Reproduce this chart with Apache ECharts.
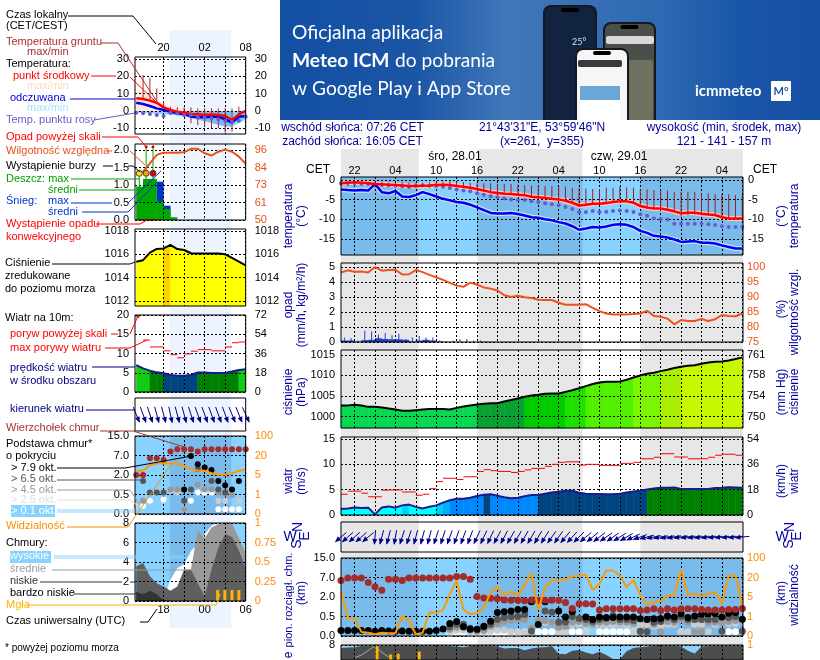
<!DOCTYPE html>
<html>
<head>
<meta charset="utf-8">
<title>meteogram</title>
<script src="https://cdn.jsdelivr.net/npm/echarts@6/dist/echarts.min.js"></script>
<style>
  html, body { margin: 0; padding: 0; background: #fff; overflow: hidden; }
  #chart { width: 820px; height: 660px; }
</style>
</head>
<body>
<div id="chart"></div>
<script>
// time labels
var localTickHours = [20, 23, 26, 29, 32];
var localLabelHours = [20, 26, 32];
var localLabels = ['20', '02', '08'];
var utcLabels = ['18', '00', '06'];
var mainTickHours = [-2, 1, 4, 7, 10, 13, 16, 19, 22, 25, 28, 31, 34, 37, 40, 43, 46, 49, 52, 55];
var mainLabelHours = [-2, 4, 10, 16, 22, 28, 34, 40, 46, 52];
var mainLabels = ['22', '04', '10', '16', '22', '04', '10', '16', '22', '04'];

// night bands, hours
var leftBand = [[20.9, 29.9]];
var mainNights = [[-4, 7.43], [16.08, 31.5], [40, 55.1]];

// left column, hourly from 16:00 CET
var sTemp = [7.3, 6.9, 6, 4.8, 2.1, 0.6, -0.4, -1, -1.7, -1.9, -2.3, -2.1, -2.3, -2.9, -5.2, -2, 0];
var sFeels = [4.8, 4, 2.9, 1.5, 0.6, -0.4, -1.3, -1.7, -3.3, -3.6, -3.6, -3.3, -3.3, -4.8, -6.7, -3.3, -2.9];
var sDew = [-1, -1.3, -1.7, -2.3, -2.9, -1, -1.3, -2.3, -2.3, -3.8, -3.7, -4.2, -4.8, -5.6, -6.2, -5.6, -3.3];
var sTempMax = [13, 10.5, 8, 6.5, 4, 2.5, 1.8, 1.5, 0.8, 0.6, 0.5, 0.3, 0, -1, -3, -1, 1];
var sSkyTop = [-1, -1, -1.3, -1.5, -2, -2, -2.5, -3, -3.5, -5, -6, -7, -8, -9, -9, -7, -5];
var sGroundTop = [null, 20.8, 19.2, 13, 5.4, 2.5, 2.1, 2.1, 2.1, 1.5, 1.5, 1.5, 1.5, 1.5, 1.5, 2.5, null];
var sGroundLow = [null, 7.3, 6.4, 5.4, 1.5, -2.3, -2.3, -3.3, -7.1, -8.1, -9, -10, -10, -12.5, -11.9, -2.3, null];
var sHumidity = [79.7, 81.9, 87.4, 92.9, 94.4, 94.4, 94.4, 94.7, 96.9, 96.9, 94, 92.5, 95, 96.4, 95, 91.8, 87];
var sRainMean = [0.96, 1.18, 1.18, 0.53, 0.31, 0.08];
var sSnowMean = [0, 0, 0, 1.1, 0.41, 0];
var sRainMax = [1.4, 2.1, 2.1];
var sOverScale = [17.5, 18.5];
var sStormHours = [16.45, 17.45, 18.45];
var sConvective = [16.5, 17, 17.5, 18, 18.5, 19, 19.5];
var sPressure = [1015.37, 1015.5, 1016.14, 1016.46, 1016.5, 1016.8, 1016.45, 1016.37, 1016.09, 1016.06, 1016.06, 1016.06, 1016.06, 1016, 1015.7, 1015.37, 1015.06];
var sWind = [7, 6.15, 5.54, 5.1, 4.85, 4.4, 4.25, 4.25, 4.4, 5.06, 5.06, 4.95, 4.95, 4.95, 5.3, 5.7, 5.9];
var sGust = [null, 13.5, 11.7, 11.7, 10.7, 9.7, 8.9, 9.9, 10.6, 11, 11, 10.7, 10.7, 11.7, 12.8, 13];
var sDir = [338, 340, 342, 345, 345, 348, 345, 345, 342, 340, 340, 340, 340, 340, 338, 338, 335];
var sCloudTop = [2.0, 2.0, 2.86, 2.86, 2.77, 3.2, 3.32, 3.32, 3.32, 3.2, 3.32, 3.32, 3.32, 3.32, 3.32, 3.32, 3.32];
var sCloud79 = [null, null, null, null, null, null, null, 1.26, 2.98, 2.55, 2.38, 2.26, 1.69, 1.48, 1.26, 1.69, null];
var sCloud65 = [null, 1.69, 1.1, 1.1, 1.1, null, null, 0.68, 1.26, 2.3, null, 1.69, 1.26, 1.1, null, null, null];
var sCloud45 = [null, 0.68, null, null, null, 1.26, 1.26, 0.25, null, 1.5, 1.26, 1.26, 1.1, 1.05, 0.98, null, null];
var sCloud25 = [0.41, null, null, null, null, 1.2, 1.1, null, null, null, null, null, 0.68, 0.68, null, 0.68, null];
var sCloud01 = [null, 0.41, 0.68, null, 0.75, null, null, 0.25, 0.68, 1.1, 1.1, 1.1, 0.25, 0.25, 0.25, 0.25, null];
var sVisibility = [2.22, 2.22, 2.51, 2.59, 2.59, 2.59, 2.59, 2.46, 2.3, 2.22, 2.22, 2.09, 2.03, 2.03, 2.09, 2.22, 2.26];
var sCloudVeryLow = [0.97, 0.62, 1.04, 0.69, 0.1, 0, 0, 0, 0, 0, 0, 0, 0, 0, 0, 0, 0];
var sCloudLow = [3.56, 3.91, 2.53, 1.83, 1.49, 1.04, 1.49, 3.22, 3.22, 1.83, 0.45, 3.22, 5.47, 6.85, 6.57, 5.19, 3.39];
var sCloudMid = [0, 0, 0, 0, 0, 0, 0, 0, 3.22, 7.27, 6.44, 7.54, 7.89, 7.96, 8, 6.5, 4.95];
var sCloudHigh = [0, 0, 0, 0, 0, 2.18, 3.39, 3.74, 5.12, 5.81, 6.85, 7.72, 8, 8, 8, 6.44, 4.95];
var sFogHours = [27.9, 28.95, 30, 31];
var sFog = [0.14, 0.14, 0.14, 0.14];

// main column, hourly from 20:00 CET on 27.01
var temp = [-0.8, -0.7, -0.6, -0.7, -0.85, -1, -1.1, -1.2, -1.3, -1.4, -1.5, -1.5, -1.45, -1.4, -1.3, -1.2, -1.3, -1.5, -1.7, -2, -2.3, -2.7, -3.1, -3.3, -3.5, -3.6, -3.75, -3.9, -4.25, -4.4, -4.6, -4.8, -4.95, -5.3, -5.8, -6.5, -6.3, -6.05, -6.05, -5.9, -5.6, -5.45, -5.45, -5.8, -6.65, -7, -7.25, -7.3, -7.6, -8, -8.5, -8.35, -8.35, -8.6, -8.8, -8.95, -9.5, -9.8, -9.85, -9.8];
var feels = [-2.4, -2.55, -2.65, -2.55, -2.7, -1, -3.1, -3.4, -2.8, -4.2, -4.35, -3.85, -3.1, -3.6, -4.2, -4.8, -5.2, -5.6, -5.8, -6.3, -7, -7.7, -8.4, -8.55, -8.55, -8.45, -8.7, -9.05, -9.5, -9.65, -10, -10.3, -10.75, -11.1, -11.8, -12.7, -12.4, -12, -12.1, -11.85, -11.45, -11.3, -11.45, -12, -13, -13.5, -14.25, -14.45, -14.7, -15.2, -15.8, -15.7, -15.6, -16, -16, -16.2, -16.7, -17.1, -17.5, -17.5];
var dew = [-0.85, -0.75, -0.85, -0.95, -1, -1.1, -1.3, -1.35, -1.45, -1.6, -1.8, -1.45, -1.35, -1.45, -1.55, -1.7, -2.05, -2.4, -2.65, -2.9, -3.4, -3.75, -4.15, -4.4, -4.7, -4.95, -5.1, -5.1, -5.45, -5.6, -5.95, -6.2, -6.45, -6.9, -7.4, -8.25, -8.15, -7.9, -8.15, -8.1, -7.9, -7.8, -7.9, -8.15, -8.75, -9.1, -9.8, -10, -10.1, -11.15, -11.2, -11.15, -11.15, -11.15, -11.3, -11.5, -11.8, -12, -12, -12];
var groundTop = [-0.3, -0.3, -0.3, -0.4, -0.4, -0.5, -0.5, -0.6, -0.6, -0.6, -0.7, -0.7, -0.7, -0.6, -0.5, -0.4, -0.3, -0.5, -0.5, -0.7, -0.85, -0.85, -0.85, -1, -1, -1, -1.2, -1.3, -1.45, -1.45, -1.55, -1.55, -1.7, -1.7, -1.95, -1.95, -2.15, -2.3, -2.3, -1.95, -1.95, -1.7, -1.9, -1.95, -2.4, -2.4, -2.55, -2.55, -2.7, -3, -3, -3, -3, -3.4, -3.4, -3.6, -3.6, -3.65, -3.85, -3.85];
var groundLow = [-1.5, -1.6, -1.6, -1.5, -1.5, -2, -1.7, -1.6, -1.7, -1.7, -1.9, -1.9, -1.8, -1.7, -1.6, -1.5, -1.6, -1.8, -2, -2.2, -2.5, -2.9, -3.3, -3.5, -3.7, -3.8, -3.9, -4, -4.4, -4.6, -4.8, -5, -5.1, -5.5, -6, -6.7, -6.5, -6.3, -6.3, -6.1, -5.8, -5.6, -5.6, -6, -6.9, -7.3, -7.4, -7.5, -7.8, -8.2, -9.3, -9, -8.8, -9, -9, -9.2, -9.7, -10, -10, -10];
var rainMax = [0.3, 0.25, 0.1, 0.75, 0.7, 0.5, 0.6, 0.45, 0.55, 0.2, 0.3, 0.4, 0.3, 0.3, 0.1, 0.05, 0.1, 0.2, 0.2, 0.1, 0.1, 0.03, 0.02, 0.02, 0.02, 0.02, 0.02, 0.02, 0.02, 0.05, 0.02, 0, 0, 0, 0, 0, 0, 0, 0, 0, 0, 0, 0, 0, 0.03, 0.03, 0.03, 0.02, 0, 0, 0, 0, 0.03, 0, 0.02, 0, 0.02, 0.02, 0, 0.02];
var rainMean = [0.1, 0.1, 0.02, 0.12, 0.15, 0.25, 0.2, 0.18, 0.18, 0.15, 0.03, 0.1, 0.15, 0.1, 0.03];
var humidity = [98.2, 98.9, 98.4, 98.5, 98.2, 100, 98.8, 99, 99.1, 97.5, 97.6, 99, 98.3, 97.4, 96.6, 95.7, 94.7, 93.8, 93.4, 94.8, 94.1, 93.2, 92.8, 92.2, 90.6, 90, 90.4, 89.9, 89.7, 89.1, 89, 89, 88.1, 87.4, 87.4, 87.4, 87.6, 86.4, 85.3, 84.5, 84.2, 84.2, 84.2, 84.3, 84.5, 85.4, 83.7, 83.4, 82.8, 80.9, 82.3, 82, 82, 82.7, 82, 82.6, 84, 83.7, 83.6, 84.5];
var pressure = [1002.7, 1002.7, 1002.85, 1002.7, 1002.35, 1002.35, 1002.2, 1001.95, 1001.7, 1001.4, 1001.4, 1001.55, 1001.7, 1001.8, 1001.85, 1001.8, 1001.7, 1002.1, 1002.45, 1002.7, 1002.9, 1003.1, 1003.2, 1003.25, 1003.65, 1004, 1004.4, 1004.8, 1005.1, 1005.3, 1005.55, 1005.6, 1005.6, 1006, 1006.4, 1006.9, 1007.4, 1007.9, 1008.3, 1008.45, 1008.45, 1008.55, 1008.95, 1009.5, 1010, 1010.4, 1010.65, 1011.05, 1011.4, 1011.8, 1012.1, 1012.35, 1012.5, 1012.85, 1013.15, 1013.35, 1013.4, 1013.65, 1014, 1014.4];
var wind = [1.2, 1.3, 1.5, 1.4, 1.45, 0.13, 1.5, 1.7, 1.45, 1.9, 2.05, 1.6, 1.3, 1.65, 1.9, 2.45, 2.9, 3.2, 3.2, 3.4, 3.75, 4, 4.1, 3.8, 3.5, 3.3, 3.4, 3.7, 3.95, 3.95, 4.2, 4.45, 4.6, 4.8, 4.8, 4.4, 4.2, 4.15, 4.15, 4.1, 4.1, 4.2, 4.45, 4.65, 4.8, 5.05, 5.25, 5.4, 5.4, 5.45, 5.15, 5.15, 5.15, 5.15, 5.15, 5.35, 5.4, 5.5, 5.45, 5.4];
var gust = [4.1, 4.7, 4.7, 4.3, 3.6, 3.6, 4.9, 4.95, 4.95, 4.55, 4.55, 3.9, 4.1, 5.2, 6.6, 7.25, 7.25, 7, 7.55, 7.55, 8.6, 8.95, 8.75, 8.6, 8.6, 8.4, 8.6, 8.9, 9.2, 9.2, 9.6, 10, 10.4, 10.5, 10.5, 9.85, 10, 10, 9.8, 9.8, 9.8, 10.2, 10.2, 10.4, 11.1, 11.1, 11.4, 12.1, 12.1, 11.45, 11.45, 11.1, 11.1, 11.1, 11.4, 11.8, 12, 12, 11.8];
var windDir = [50, 48, 48, 48, 50, 5, 15, 15, 10, 18, 18, 15, 15, 15, 18, 18, 20, 20, 20, 20, 25, 25, 25, 28, 28, 30, 30, 30, 30, 30, 32, 35, 35, 40, 42, 45, 50, 50, 52, 55, 55, 58, 60, 65, 70, 75, 78, 80, 80, 80, 82, 82, 82, 83, 83, 84, 84, 84, 85, 85];
var cloudTop = [2.84, 2.98, 2.98, 2.98, 2.74, 2.53, 2.34, 2.91, 2.91, 2.84, 2.98, 2.98, 2.98, 2.98, 2.98, 2.98, 2.98, 3.05, 3.05, 2.91, 2.02, 1.95, 1.93, 1.91, 1.84, 1.83, 1.83, 1.81, 1.84, 1.83, 1.83, 1.83, 1.83, 1.72, 1.41, 1.66, 1.66, 1.64, 1.33, 1.4, 1.4, 1.4, 1.4, 1.4, 1.31, 1.33, 1.4, 1.31, 1.4, 1.33, 1.4, 1.4, 1.4, 1.36, 1.33, 1.33, 1.33, 1.36, 1.36, 1.41];
var cloud79 = [0.28, 0.28, 0.28, 0.28, 0.28, 0.24, 0.28, 0.26, 0.24, 0.26, 0.24, 0.24, 0.24, 0.24, 0.28, 0.36, 0.64, 0.74, 0.47, 0.34, 0.34, 0.5, 0.76, 1.2, 1.24, 1.28, 1.36, 1.36, 1.76, 0.59, 1.76, null, 1.28, 0.97, 1.24, null, 0.97, 0.84, 0.97, 0.95, 0.95, 0.97, 0.97, 0.97, 0.88, 0.84, 0.88, 0.9, 1.02, 0.98, 1.14, 0.95, 1.02, 1.12, 1.14, 1.16, 0.98, 1.17, 1.21, 0.86];
var cloud65 = [null, null, null, null, null, null, null, null, null, null, null, null, null, null, null, null, 0.47, 0.6, 0.6, 0.4, 0.33, 0.45, 0.6, 0.85, 0.95, 1, 1, 1.1, 0.25, null, 1.28, 1.22, 0.7, 0.72, 1, 0.9, 0.85, 0.75, 0.85, 0.9, 1.05, 0.85, 0.85, 0.8, 0.25, 0.22, 0.7, 0.75, 0.95, 0.85, 1, 0.85, 0.85, 0.85, 0.85, 0.85, 0.25, 0.95, 1, 0.25];
var cloud45 = [null, null, null, null, null, null, null, null, null, null, null, null, null, null, null, null, 0.35, 0.45, 0.45, 0.3, 0.25, 0.3, 0.5, 0.62, 0.75, 0.8, 0.85, 0.85, 0.4, 0.78, 0.78, 0.7, 0.45, 0.5, 0.7, 0.75, 0.65, 0.6, 0.7, 0.7, 0.75, 0.7, 0.7, 0.65, 0.22, null, 0.6, 0.22, 0.75, 0.7, 0.85, 0.7, 0.22, 0.22, 0.7, 0.7, 0.7, 0.75, 0.8, null];
var cloud25 = [null, null, null, null, null, null, null, null, null, null, null, null, null, null, null, null, 0.22, 0.3, 0.3, 0.2, 0.2, 0.22, 0.25, 0.3, 0.3, 0.22, 0.22, 0.22, null, 0.7, 0.7, 0.7, 0.22, 0.22, 0.6, 0.6, 0.22, 0.6, 0.6, 0.6, 0.6, 0.6, 0.6, 0.22, 0.55, 0.6, 0.5, 0.5, 0.6, 0.6, 0.22, 0.22, 0.6, 0.6, 0.22, 0.6, 0.22, 0.65, 0.65, 0.22];
var cloud01 = [null, null, null, null, null, null, null, null, null, null, null, null, null, null, null, null, 0.12, 0.2, 0.2, 0.14, 0.14, 0.14, 0.14, 0.14, 0.14, 0.14, 0.14, 0.22, 0.22, 0.22, 0.22, 0.22, 0.22, 0.22, 0.22, 0.22, 0.22, null, 0.22, 0.22, 0.22, 0.22, 0.22, 0.22, null, null, null, null, null, null, 0.22, null, null, null, null, null, null, 0.22, 0.22, null];
var visibility = [2.28, 0.9, 0.9, 0.21, 0.17, 0.09, 0.17, 0.14, 0.14, 1.02, 0.79, 0.09, 0.16, 1.22, 1.19, 1.33, 2.16, 2.84, 1.36, 1.12, 1.19, 1.47, 2.24, 2.53, 2.07, 2.29, 2.07, 2.62, 3.22, 1.33, 2.5, 2.86, 2.86, 2.9, 3.05, 3.09, 3.14, 2.36, 2.67, 3.36, 3.36, 3.1, 2.52, 2.88, 2.1, 1.6, 1.72, 1.79, 2.07, 2.09, 3.4, 2.1, 2.17, 2.05, 2.16, 2.24, 1.66, 3.1, 3.09, 1.59];
var cloudHeight = [7.66, 7.73, 7.76, 7.9, 7.9, 7.9, 7.9, 7.9, 7.9, 7.9, 7.9, 7.9, 7.9, 7.9, 7.9, 7.9, 7.9, 7.83, 7.76, 7.9, 7.93, 7.93, 7.93, 7.83, 7.62, 7.66, 7.66, 7.42, 7.62, 7.73, 7.76, 7.9, 7.04, 7, 7.38, 7.45, 7.18, 7, 7.25, 6.9, 6.46, 6.46, 7.32, 7.66, 7.76, 7.83, 7.93, 7.93, 7.93, 7.93, 7.83, 7.38, 7.07, 7.83, 7.9, 7.9, 7.9, 7.9, 7.9, 7.9];
var cloudEdge = [null, null, 6.6, 6.9, 7.4, 7.9, 7.2, 6.7];
var fogHours = [1.3, 3.3, 4.4, 7.5];
var fogTop = [0.99, 0.87, 0.88, 0.91];

// axis ticks
var tempTicks = [30, 20, 10, 0, -10];
var rainTicks = [2, 1.5, 1, 0.5, 0];
var rainLabels = ['2.0', '1.5', '1.0', '0.5', '0.0'];
var humidTicks = [96, 84, 73, 61, 50];
var pressTicks = [1018, 1016, 1014, 1012];
var windTicks = [20, 15, 10, 5, 0];
var windKmh = ['72', '54', '36', '18', '0'];
var stepTicks = [4, 3, 2, 1, 0];
var baseLabels = ['15.0', '7.0', '2.0', '0.5', '0.0'];
var visLabels = ['100', '20', '5', '1', '0'];
var coverTicks = [8, 6, 4, 2, 0];
var fogTicks = [1, 0.75, 0.5, 0.25, 0];
var mainTempTicks = [0, -5, -10, -15];
var mainRainTicks = [5, 4, 3, 2, 1, 0];
var mainHumidTicks = [100, 95, 90, 85, 80, 75];
var mainPressTicks = [1015, 1010, 1005, 1000];
var mmHgLabels = ['761', '758', '754', '750'];
var mainWindTicks = [15, 10, 5, 0];
var mainKmh = ['54', '36', '18', '0'];

// fill colours by value
var pressureScale = [[0, '#08d850'], [1002.95, '#08a030'], [1004.7, '#00cc00'], [1006, '#1ee000'], [1007.5, '#50f000'], [1009.5, '#7cf500'], [1011, '#a8f000'], [1012, '#c8f800'], [1014.9, '#ffff00'], [1016.64, '#ffd000']];
var windScale = [[0, '#00ffff'], [1.85, '#00ccff'], [2.3, '#00b0ff'], [3, '#0088ff'], [4.05, '#004480'], [4.95, '#008000'], [5.6, '#11cc11']];

var SKY = '#87d2ff', NIGHT_SKY = '#79bcec';
var FONT = '"Liberation Sans", Arial, sans-serif';
var DASH = { color: '#000', width: 1, type: [2, 2] };

var grids = [], xAxes = [], yAxes = [], series = [];

function hoursOf(list, start) {
  return list.map(function (v, i) { return [start + i, v]; });
}

function lookup(ticks, labels) {
  return function (v) {
    var i = ticks.indexOf(v);
    return i < 0 ? '' : (labels ? labels[i] : String(v));
  };
}

// one plot with a left and a right y axis; returns its x axis index
function addPanel(p) {
  var k = grids.length;
  grids.push({ left: p.x, top: p.top, width: p.w, height: p.h, show: p.frame !== false, borderColor: '#000', borderWidth: 1, backgroundColor: 'transparent', z: 30 });
  xAxes.push({
    type: 'value', gridIndex: k, min: p.xMin, max: p.xMax, z: 10, position: p.xPos || 'bottom',
    axisLine: { show: false },
    axisTick: { show: false, customValues: p.xTicks },
    splitLine: { show: !!p.grid, lineStyle: DASH },
    axisLabel: p.xLabels ? {
      show: true, customValues: p.xLabelHours, formatter: lookup(p.xLabelHours, p.xLabels),
      color: '#000', fontFamily: FONT, fontSize: 11, margin: p.xMargin || 2, hideOverlap: false
    } : { show: false }
  });
  yAxes.push({
    type: 'value', gridIndex: k, min: p.min, max: p.max, position: 'left', z: 10,
    axisLine: { show: false },
    axisTick: { show: false, customValues: p.ticks || [] },
    splitLine: { show: !!p.grid, lineStyle: DASH },
    axisLabel: p.ticks ? {
      show: true, customValues: p.ticks, formatter: lookup(p.ticks, p.labels),
      color: '#000', fontFamily: FONT, fontSize: 11, margin: 6, hideOverlap: false
    } : { show: false }
  });
  var r = p.right || {};
  var rTicks = r.ticks || p.ticks;
  yAxes.push({
    type: 'value', gridIndex: k, min: r.min !== undefined ? r.min : p.min, max: r.max !== undefined ? r.max : p.max,
    position: 'right', z: 10,
    axisLine: { show: false }, splitLine: { show: false },
    axisTick: { show: false, customValues: rTicks || [] },
    axisLabel: rTicks ? {
      show: true, customValues: rTicks, formatter: lookup(rTicks, r.labels),
      color: r.color || '#000', fontFamily: FONT, fontSize: 11, margin: r.margin || 5, hideOverlap: false
    } : { show: false }
  });
  return k;
}

function lineSeries(k, axis, pts, color, width, z, area) {
  var s = {
    type: 'line', xAxisIndex: k, yAxisIndex: k * 2 + axis, data: pts, silent: true, showSymbol: false, symbol: 'none',
    connectNulls: false, lineStyle: { color: color, width: width }, z: z || 12
  };
  if (area) { s.areaStyle = { color: area, opacity: 1 }; s.itemStyle = { color: color }; }
  series.push(s);
}

function dots(k, axis, pts, color, size, z, border) {
  series.push({
    type: 'scatter', xAxisIndex: k, yAxisIndex: k * 2 + axis, data: pts.filter(function (d) { return d[1] !== null; }),
    symbolSize: size, silent: true, z: z || 20,
    itemStyle: { color: color, opacity: 1, borderColor: border || color, borderWidth: border ? 1 : 0 }
  });
}

// straight segments [x0, y0, x1, y1] through the axes
function segments(k, axis, segs, color, width, z) {
  series.push({
    type: 'custom', xAxisIndex: k, yAxisIndex: k * 2 + axis, silent: true, z: z || 12,
    data: segs, encode: { x: [0, 2], y: [1, 3] },
    renderItem: function (params, api) {
      var a = api.coord([api.value(0), api.value(1)]);
      var b = api.coord([api.value(2), api.value(3)]);
      return { type: 'line', shape: { x1: a[0], y1: a[1], x2: b[0], y2: b[1] }, style: { stroke: color, lineWidth: width } };
    }
  });
}

// filled rectangles over hour spans, full panel height
function spans(k, list, yMin, yMax, color, z) {
  series.push({
    type: 'custom', xAxisIndex: k, yAxisIndex: k * 2, silent: true, z: z === undefined ? 1 : z,
    data: list, encode: { x: [0, 1] },
    renderItem: function (params, api) {
      var a = api.coord([api.value(0), yMax]);
      var b = api.coord([api.value(1), yMin]);
      return { type: 'rect', shape: { x: a[0], y: a[1], width: b[0] - a[0], height: b[1] - a[1] }, style: { fill: color } };
    }
  });
}

function colourFor(scale, v) {
  var c = scale[0][1];
  scale.forEach(function (s) { if (v >= s[0]) c = s[1]; });
  return c;
}

// area under a curve, one polygon per hour, coloured by value
function scaledFill(k, start, vals, base, scale) {
  var cells = vals.slice(1).map(function (v, i) { return [start + i, vals[i], v]; });
  series.push({
    type: 'custom', xAxisIndex: k, yAxisIndex: k * 2, silent: true, z: 3,
    data: cells, encode: { x: 0, y: [1, 2] },
    renderItem: function (params, api) {
      var x = api.value(0), y0 = api.value(1), y1 = api.value(2);
      var pts = [api.coord([x, base]), api.coord([x, y0]), api.coord([x + 1, y1]), api.coord([x + 1, base])];
      var c = colourFor(scale, (y0 + y1) / 2);
      return { type: 'polygon', shape: { points: pts }, style: { fill: c, stroke: c, lineWidth: 0.5 } };
    }
  });
}

function arrows(k, start, dirs, len, head) {
  series.push({
    type: 'custom', xAxisIndex: k, yAxisIndex: k * 2, silent: true, z: 20, clip: false,
    data: dirs.map(function (d, i) { return [start + i, d]; }), encode: { x: 0 },
    renderItem: function (params, api) {
      var c = api.coord([api.value(0), 0.5]);
      var th = (api.value(1) + 180) * Math.PI / 180;
      var dx = Math.sin(th), dy = -Math.cos(th);
      var hx = c[0] + dx * len / 2, hy = c[1] + dy * len / 2;
      var tx = c[0] - dx * len / 2, ty = c[1] - dy * len / 2;
      return {
        type: 'group', children: [
          { type: 'line', shape: { x1: tx, y1: ty, x2: hx, y2: hy }, style: { stroke: '#00008b', lineWidth: 1 } },
          { type: 'polygon', shape: { points: [[hx + dx * 1, hy + dy * 1], [hx - dx * head - dy * head / 2, hy - dy * head + dx * head / 2], [hx - dx * head + dy * head / 2, hy - dy * head - dx * head / 2]] }, style: { fill: '#00008b' } }
        ]
      };
    }
  });
}

function gridSpan(x) { return { x: x ? 341 : 135, w: x ? 402 : 110.7, xMin: x ? -4 : 15.82, xMax: x ? 55.1 : 32, xTicks: x ? mainTickHours : localTickHours }; }

function panel(main, o) {
  var g = gridSpan(main);
  for (var key in o) g[key] = o[key];
  return addPanel(g);
}

/* page backgrounds */
var bgLeft = panel(false, { top: 30, h: 598, min: 0, max: 1, frame: false });
spans(bgLeft, leftBand, 0, 1, '#eef4ff', 0);
var bgMain = panel(true, { top: 149, h: 511, min: 0, max: 1, frame: false });
spans(bgMain, mainNights, 0, 1, '#e7e7e7', 0);

/* left column */
var lTemp = panel(false, { top: 57, h: 77, min: -13.3, max: 31.2, ticks: tempTicks, right: { margin: 9 }, grid: true, xPos: 'top', xLabels: localLabels, xLabelHours: localLabelHours, xMargin: 4 });
lineSeries(lTemp, 0, hoursOf(sTempMax, 16), '#ffe8dc', 0, 2, '#ffe8dc');
lineSeries(lTemp, 0, hoursOf(sSkyTop, 16), SKY, 0, 3, new echarts.graphic.LinearGradient(0, 0, 1, 0, [
  { offset: 0, color: SKY }, { offset: 0.306, color: SKY }, { offset: 0.306, color: NIGHT_SKY },
  { offset: 0.869, color: NIGHT_SKY }, { offset: 0.869, color: SKY }, { offset: 1, color: SKY }
]));
segments(lTemp, 0, sGroundTop.map(function (v, i) { return v === null ? null : [16 + i, v, 16 + i, sGroundLow[i]]; }).filter(Boolean), '#a52a2a', 1, 11);
lineSeries(lTemp, 0, hoursOf(sFeels, 16), '#0000ee', 2.5);
lineSeries(lTemp, 0, hoursOf(sTemp, 16), '#ff0000', 2.5);
dots(lTemp, 0, hoursOf(sDew, 16), '#6a5acd', 4, 13);

var lRain = panel(false, { top: 144, h: 76, min: 0, max: 2.18, ticks: rainTicks, labels: rainLabels, right: { min: 50, max: 100.1, ticks: humidTicks, color: '#e8501c', margin: 9 }, grid: true });
segments(lRain, 0, sSnowMean.map(function (v, i) { return [16.5 + i, 0, 16.5 + i, v]; }), '#0033cc', 7, 3);
segments(lRain, 0, sRainMean.map(function (v, i) { return [16.5 + i, 0, 16.5 + i, v]; }), '#00a800', 7, 4);
segments(lRain, 0, [[16.45, 0, 16.45, sRainMax[0]], [17.45, 0, 17.45, sRainMax[1]], [18.45, 0, 18.45, sRainMax[2]]], '#00a800', 1, 11);
lineSeries(lRain, 1, hoursOf(sHumidity, 16), '#e8501c', 2);
dots(lRain, 0, sOverScale.map(function (h) { return [h - 0.05, 2.1]; }), '#e00000', 3, 21);
dots(lRain, 0, [[sStormHours[0], 1.34]], '#ffe000', 6, 21, '#444');
dots(lRain, 0, [[sStormHours[1], 1.34]], '#f5a000', 6, 21, '#444');
dots(lRain, 0, [[sStormHours[2], 1.34]], '#e00000', 6, 21, '#444');
dots(lRain, 0, sConvective.map(function (h) { return [h, 0.01]; }), '#e00000', 2, 21);

var lPress = panel(false, { top: 229, h: 77, min: 1011.57, max: 1018.17, ticks: pressTicks, right: { margin: 9 }, grid: true });
scaledFill(lPress, 16, sPressure, 1011.57, pressureScale);
lineSeries(lPress, 0, hoursOf(sPressure, 16), '#000', 2);

var lWind = panel(false, { top: 315, h: 77, min: 0, max: 20, ticks: windTicks, right: { labels: windKmh, margin: 9 }, grid: true });
scaledFill(lWind, 16, sWind, 0, windScale);
lineSeries(lWind, 0, hoursOf(sWind, 16), '#1a1a90', 2);
segments(lWind, 0, sGust.map(function (v, i) { return v === null ? null : [16 + i, v, 17 + i, v]; }).filter(Boolean), '#ff0000', 1);
dots(lWind, 0, [[16.25, 19.6]], '#e00000', 3, 21);

var lDir = panel(false, { top: 398, h: 33, min: 0, max: 1 });
arrows(lDir, 16, sDir, 16, 5);

var lBase = panel(false, { top: 436, h: 78, min: 0, max: 4, ticks: stepTicks, labels: baseLabels, right: { labels: visLabels, color: '#ff8c00', margin: 9 }, grid: true });
spans(lBase, [[15.82, 32]], 0, 4, SKY);
spans(lBase, leftBand, 0, 4, NIGHT_SKY, 1);
dots(lBase, 0, hoursOf(sCloud01, 16), '#fff', 6, 13);
dots(lBase, 0, hoursOf(sCloud25, 16), '#ccc', 6, 14);
dots(lBase, 0, hoursOf(sCloud45, 16), '#999', 6, 15);
dots(lBase, 0, hoursOf(sCloud65, 16), '#555', 6, 16);
dots(lBase, 0, hoursOf(sCloud79, 16), '#000', 6, 17);
dots(lBase, 0, hoursOf(sCloudTop, 16), '#a52a2a', 6, 18);
lineSeries(lBase, 0, hoursOf(sVisibility, 16), '#ff9900', 2, 19);

var lCover = panel(false, { top: 523, h: 78, min: 0, max: 8, ticks: coverTicks, right: { min: 0, max: 1, ticks: fogTicks, labels: ['1', '0.75', '0.5', '0.25', '0'], color: '#ff8c00', margin: 9 }, grid: true, xLabels: utcLabels, xLabelHours: localLabelHours, xMargin: 3 });
spans(lCover, [[15.82, 32]], 0, 8, SKY);
spans(lCover, leftBand, 0, 8, NIGHT_SKY, 1);
lineSeries(lCover, 0, hoursOf(sCloudHigh, 16), '#fff', 0, 2, '#fff');
lineSeries(lCover, 0, hoursOf(sCloudMid, 16), '#999', 0, 3, '#999');
lineSeries(lCover, 0, hoursOf(sCloudLow, 16), '#5f5f5f', 0, 4, '#5f5f5f');
lineSeries(lCover, 0, hoursOf(sCloudVeryLow, 16), '#333', 0, 5, '#333');
segments(lCover, 1, sFogHours.map(function (h, i) { return [h, 0, h, sFog[i]]; }), '#ffb400', 3, 20);

/* main column */
var mTemp = panel(true, { top: 177, h: 78, min: -19.15, max: 0.77, ticks: mainTempTicks, grid: true, xPos: 'top', xLabels: mainLabels, xLabelHours: mainLabelHours, xMargin: 1 });
spans(mTemp, [[-4, 55.1]], -19.15, 0.77, SKY);
spans(mTemp, mainNights, -19.15, 0.77, NIGHT_SKY);
segments(mTemp, 0, groundTop.map(function (v, i) { return [i - 4, v, i - 4, groundLow[i]]; }), '#a01c1c', 1, 11);
lineSeries(mTemp, 0, hoursOf(feels, -4), '#c4e0ff', 5, 4);
lineSeries(mTemp, 0, hoursOf(temp, -4), '#ffc8c8', 5, 4);
dots(mTemp, 0, hoursOf(dew, -4), '#6a5acd', 4, 13);
lineSeries(mTemp, 0, hoursOf(feels, -4), '#0000ee', 2.5, 14);
lineSeries(mTemp, 0, hoursOf(temp, -4), '#ff0000', 2.5, 15);

var mRain = panel(true, { top: 263, h: 79, min: 0, max: 5.27, ticks: mainRainTicks, right: { min: 75, max: 101.35, ticks: mainHumidTicks, color: '#f0501e', margin: 4 }, grid: true });
segments(mRain, 0, rainMean.map(function (v, i) { return [i - 3.5, 0, i - 3.5, v]; }), '#2040d0', 7, 4);
segments(mRain, 0, rainMax.map(function (v, i) { return [i - 3.5, 0, i - 3.5, v]; }).filter(function (s) { return s[3] > 0; }), '#2040d0', 1, 5);
lineSeries(mRain, 1, hoursOf(humidity, -4), '#f0501e', 2);

var mPress = panel(true, { top: 350, h: 78, min: 997.2, max: 1016.2, ticks: mainPressTicks, right: { labels: mmHgLabels, margin: 4 }, grid: true });
scaledFill(mPress, -4, pressure, 997.2, pressureScale);
lineSeries(mPress, 0, hoursOf(pressure, -4), '#000', 2);

var mWind = panel(true, { top: 437, h: 78, min: 0, max: 15.4, ticks: mainWindTicks, right: { labels: mainKmh, margin: 4 }, grid: true });
scaledFill(mWind, -4, wind, 0, windScale);
lineSeries(mWind, 0, hoursOf(wind, -4), '#1a1a90', 2);
segments(mWind, 0, gust.map(function (v, i) { return [i - 4, v, i - 3, v]; }), '#ff0000', 1);

var mDir = panel(true, { top: 522, h: 30, min: 0, max: 1 });
arrows(mDir, -4, windDir, 14, 5);

var mBase = panel(true, { top: 558, h: 78, min: 0, max: 4, ticks: stepTicks, labels: baseLabels, right: { labels: visLabels, color: '#ff8c00', margin: 4 }, grid: true });
spans(mBase, [[-4, 55.1]], 0, 4, SKY);
spans(mBase, mainNights, 0, 4, NIGHT_SKY);
dots(mBase, 0, hoursOf(cloud01, -4), '#fff', 7, 13);
dots(mBase, 0, hoursOf(cloud25, -4), '#ccc', 7, 14);
dots(mBase, 0, hoursOf(cloud45, -4), '#999', 7, 15);
dots(mBase, 0, hoursOf(cloud65, -4), '#555', 7, 16);
dots(mBase, 0, hoursOf(cloud79, -4), '#000', 7, 17);
dots(mBase, 0, hoursOf(cloudTop, -4), '#a52a2a', 7, 18);
lineSeries(mBase, 0, hoursOf(visibility, -4), '#ff9900', 2, 19);

// the window cuts this plot off, only its top is in view
var mCover = panel(true, { top: 645, h: 16, min: 6.36, max: 8, ticks: [8], right: { min: 0.795, max: 1, ticks: [1], color: '#ff8c00', margin: 4 }, grid: true });
spans(mCover, [[-4, 55.1]], 6.36, 8, SKY);
lineSeries(mCover, 0, hoursOf(cloudHeight, -4), '#4d4d4d', 0, 3, '#4d4d4d');
lineSeries(mCover, 0, hoursOf(cloudEdge, -4), '#aaa', 1, 5);
segments(mCover, 1, fogHours.map(function (h, i) { return [h, 0.795, h, fogTop[i]]; }), '#ffb400', 3, 20);

/* text, leaders, banner */
function txt(x, y, s, color, opt) {
  opt = opt || {};
  return {
    type: 'text', x: x, y: y, z: 60, rotation: opt.rot || 0, silent: true,
    style: { text: s, fill: color || '#000', fontFamily: opt.font || FONT, fontSize: opt.size || 11, fontWeight: opt.weight || 'normal', align: opt.align || 'left', verticalAlign: 'middle' }
  };
}
function vtxt(x, y, s, size) { return txt(x, y, s, '#0000a0', { rot: Math.PI / 2, align: 'center', size: size || 12 }); }
function lead(points, color, width) {
  return { type: 'polyline', z: 50, silent: true, shape: { points: points }, style: { stroke: color, lineWidth: width || 1, fill: null } };
}
function box(x, y, w, h, fill, r) {
  return { type: 'rect', z: 45, silent: true, shape: { x: x, y: y, width: w, height: h, r: r || 0 }, style: { fill: fill } };
}

var PALE_PINK = '#ffd8c8', PALE_BLUE = '#a8e0ff', NAVY = '#000080', GREEN = '#00a000', BLUE = '#0033cc', BROWN = '#a83030', PURPLE = '#6a5acd', ORANGE = '#ff8c00';
var COMPASS = { align: 'center', size: 14 }, COMPASS_ROT = { align: 'center', size: 14, rot: Math.PI / 2 };

var pageText = [
  txt(6, 15, 'Czas lokalny'), txt(6, 26, '(CET/CEST)'),
  txt(6, 42, 'Temperatura gruntu', BROWN), txt(27, 52, 'max/min', BROWN),
  txt(6, 64, 'Temperatura:'), txt(13, 76, 'punkt środkowy', '#ff0000'),
  txt(27, 86, 'max/min', PALE_PINK), txt(10, 98, 'odczuwana', '#0000dd'),
  txt(27, 108, 'max/min', PALE_BLUE), txt(6, 120, 'Temp. punktu rosy', PURPLE),
  txt(6, 137, 'Opad powyżej skali', '#ff0000'), txt(6, 151, 'Wilgotność względna', '#e8501c'),
  txt(6, 166, 'Wystąpienie burzy'), txt(6, 179, 'Deszcz: max', GREEN), txt(48, 190, 'średni', GREEN),
  txt(6, 201, 'Śnieg:', BLUE), txt(48, 201, 'max', BLUE), txt(48, 212, 'średni', BLUE),
  txt(6, 224, 'Wystąpienie opadu', '#ff0000'), txt(6, 237, 'konwekcyjnego', '#ff0000'),
  txt(5, 263, 'Ciśnienie'), txt(5, 276, 'zredukowane'), txt(5, 289, 'do poziomu morza'),
  txt(5, 318, 'Wiatr na 10m:'),
  txt(10, 334, 'poryw powyżej skali', '#ff0000'), txt(10, 348, 'max porywy wiatru', '#ff0000'),
  txt(10, 368, 'prędkość wiatru', NAVY), txt(10, 381, 'w środku obszaru', NAVY),
  txt(10, 409, 'kierunek wiatru', NAVY), txt(6, 428, 'Wierzchołek chmur', BROWN),
  txt(6, 444, 'Podstawa chmur*'), txt(6, 456, 'o pokryciu'),
  txt(11, 468, '> 7.9 okt.'), txt(11, 479, '> 6.5 okt.', '#555'), txt(11, 490, '> 4.5 okt.', '#999'),
  txt(11, 500, '> 2.5 okt.', '#ddd'), box(11, 505, 44, 12, SKY), txt(11, 511, '> 0.1 okt.', '#fff'),
  txt(6, 526, 'Widzialność', ORANGE), txt(6, 543, 'Chmury:'),
  box(10, 551, 41, 12, SKY), txt(10, 556, 'wysokie', '#fff'), txt(10, 569, 'średnie', '#999'),
  txt(10, 581, 'niskie', '#333'), txt(10, 593, 'bardzo niskie'), txt(6, 605, 'Mgła', '#ffb400'),
  txt(6, 621, 'Czas uniwersalny (UTC)'), txt(5, 648, '* powyżej poziomu morza', '#000', { size: 10 }),
  // header above main plots
  txt(352.5, 128, 'wschód słońca: 07:26 CET', '#000099', { align: 'center', size: 12 }),
  txt(352.5, 142, 'zachód słońca: 16:05 CET', '#000099', { align: 'center', size: 12 }),
  txt(542, 128, '21°43\'31"E, 53°59\'46"N', '#000099', { align: 'center', size: 12 }),
  txt(542, 142, '(x=261,  y=355)', '#000099', { align: 'center', size: 12 }),
  txt(724, 128, 'wysokość (min, środek, max)', '#000099', { align: 'center', size: 12 }),
  txt(724, 142, '121 - 141 - 157 m', '#000099', { align: 'center', size: 12 }),
  txt(455, 157, 'śro, 28.01', '#000', { align: 'center', size: 12 }),
  txt(619, 157, 'czw, 29.01', '#000', { align: 'center', size: 12 }),
  txt(318, 170, 'CET', '#000', { align: 'center', size: 12 }),
  txt(765, 170, 'CET', '#000', { align: 'center', size: 12 }),
  // rotated axis titles
  vtxt(289, 216, 'temperatura'), vtxt(302, 216, '(°C)'), vtxt(782, 216, '(°C)'), vtxt(795, 216, 'temperatura'),
  vtxt(289, 305, 'opad'), vtxt(302, 305, '(mm/h, kg/m²/h)'), vtxt(782, 309, '(%)'), vtxt(795, 312, 'wilgotność wzgl.'),
  vtxt(289, 392, 'ciśnienie'), vtxt(302, 392, '(hPa)'), vtxt(782, 392, '(mm Hg)'), vtxt(795, 392, 'ciśnienie'),
  vtxt(289, 481, 'wiatr'), vtxt(302, 481, '(m/s)'), vtxt(782, 481, '(km/h)'), vtxt(795, 481, 'wiatr'),
  vtxt(289, 600, 'pion. rozciągł. chm.', 11), vtxt(302, 593, '(km)'), vtxt(782, 593, '(km)'), vtxt(795, 595, 'widzialność'),
  vtxt(289, 655, 'e'),
  // compass
  txt(290, 537, 'W', '#0000a0', COMPASS), txt(298, 527, 'N', '#0000a0', COMPASS_ROT),
  txt(297, 544, 'S', '#0000a0', COMPASS_ROT), txt(305, 536, 'E', '#0000a0', COMPASS_ROT),
  txt(782, 537, 'W', '#0000a0', COMPASS), txt(790, 527, 'N', '#0000a0', COMPASS_ROT),
  txt(789, 544, 'S', '#0000a0', COMPASS_ROT), txt(797, 536, 'E', '#0000a0', COMPASS_ROT)
];

var leaders = [
  lead([[68, 16], [133, 16], [156, 44]], '#000'),
  lead([[101, 43], [118, 43], [156, 100]], BROWN),
  lead([[91, 76], [116, 76]], '#ff0000'), lead([[130, 77], [157, 103]], '#ff0000'),
  lead([[70, 99], [135, 99]], '#0000dd'),
  lead([[94, 120], [135, 113]], PURPLE),
  lead([[102, 137], [138, 137], [146, 147]], '#ff0000'),
  lead([[106, 151], [112, 151]], '#e8501c'), lead([[130, 151], [145, 165]], '#e8501c'),
  lead([[103, 166], [113, 166]], '#000'), lead([[128, 166], [133, 166], [140, 172]], '#000'),
  lead([[71, 179], [139, 179]], GREEN), lead([[79, 190], [135, 190]], GREEN),
  lead([[71, 203], [112, 203]], BLUE), lead([[128, 203], [161, 171]], BLUE),
  lead([[82, 212], [128, 212], [157, 182]], BLUE),
  lead([[96, 224], [140, 224], [147, 220]], '#ff0000'),
  lead([[52, 264], [130, 264], [135, 262]], '#000'),
  lead([[111, 334], [118, 334]], '#ff0000'), lead([[130, 334], [138, 316]], '#ff0000'),
  lead([[105, 348], [130, 348], [147, 340]], '#ff0000'),
  lead([[92, 367], [135, 367]], NAVY),
  lead([[86, 410], [135, 410]], NAVY),
  lead([[100, 431], [133, 431], [184, 447]], BROWN),
  lead([[57, 468], [125, 468], [192, 456]], '#000'),
  lead([[57, 480], [145, 480]], '#555'),
  lead([[57, 490], [130, 490], [140, 505]], '#999'),
  lead([[57, 500], [130, 500], [137, 505]], '#ddd'),
  lead([[57, 510], [135, 510]], SKY), lead([[57, 512], [135, 512]], SKY),
  lead([[67, 527], [128, 527], [172, 463]], ORANGE),
  lead([[54, 556], [186, 556]], SKY), lead([[54, 558], [186, 558]], SKY),
  lead([[52, 570], [192, 570]], '#999'),
  lead([[40, 582], [122, 582]], '#333'), lead([[130, 582], [135, 582]], '#333'),
  lead([[74, 594], [150, 594]], '#333'),
  lead([[26, 605], [216, 605], [220, 594]], '#ffb400'),
  lead([[140, 622], [148, 622], [157, 609]], '#000')
];

// phones are cut by the lower edge of the banner
function phone(x, y, w, screen) {
  return [
    box(x, y, w, 120 - y, '#17181c', [8, 8, 0, 0]),
    box(x + 2, y + 2, w - 4, 118 - y, screen, [6, 6, 0, 0]),
    box(x + w / 2 - 9, y + 3, 18, 4, '#000', 2)
  ];
}
var banner = [
  { type: 'rect', z: 40, silent: true, shape: { x: 280, y: 0, width: 540, height: 120 },
    style: { fill: new echarts.graphic.LinearGradient(0, 0, 1, 0, [
      { offset: 0, color: '#134fa3' }, { offset: 0.25, color: '#1b56a6' }, { offset: 0.42, color: '#3f77b9' },
      { offset: 0.7, color: '#2f69b2' }, { offset: 0.85, color: '#1a56a8' }, { offset: 1, color: '#154fa3' }
    ]) } },
  txt(292, 33, 'Oficjalna aplikacja', '#fff', { font: 'Lato', size: 19.2 }),
  txt(292, 61, 'Meteo ICM', '#fff', { font: 'Lato', size: 19.2, weight: 'bold' }),
  txt(395, 61, 'do pobrania', '#fff', { font: 'Lato', size: 19.2 }),
  txt(292, 89, 'w Google Play i App Store', '#fff', { font: 'Lato', size: 19.2 })
]
  .concat(phone(543, 5, 54, '#12233f'))
  .concat(phone(603, 22, 53, '#4a4f4a'))
  .concat([box(606, 36, 48, 8, '#d8d8d8', 2), box(615, 60, 38, 60, '#6f7060', 2)])
  .concat(phone(575, 48, 54, '#f4f6f8'))
  .concat([
    box(578, 60, 44, 7, '#3a3a3a', 2), box(580, 86, 40, 14, '#6aa6d8'), box(580, 100, 40, 20, '#fff'),
    txt(572, 42, '25°', '#cfe0f5', { font: 'Lato', size: 9 }),
    txt(695, 91, 'icmmeteo', '#fff', { font: 'Lato', size: 15, weight: 'bold' }),
    box(771, 81, 20, 20, '#fff', 1),
    txt(781, 91, 'M°', '#1a56a8', { font: 'Lato', size: 11, weight: 'bold', align: 'center' })
  ]);

var myChart = echarts.init(document.getElementById('chart'), null, { width: 820, height: 660 });
myChart.setOption({
  animation: false,
  backgroundColor: '#fff',
  tooltip: { show: false },
  grid: grids,
  xAxis: xAxes,
  yAxis: yAxes,
  series: series,
  graphic: { elements: banner.concat(leaders).concat(pageText) }
});
</script>
</body>
</html>
